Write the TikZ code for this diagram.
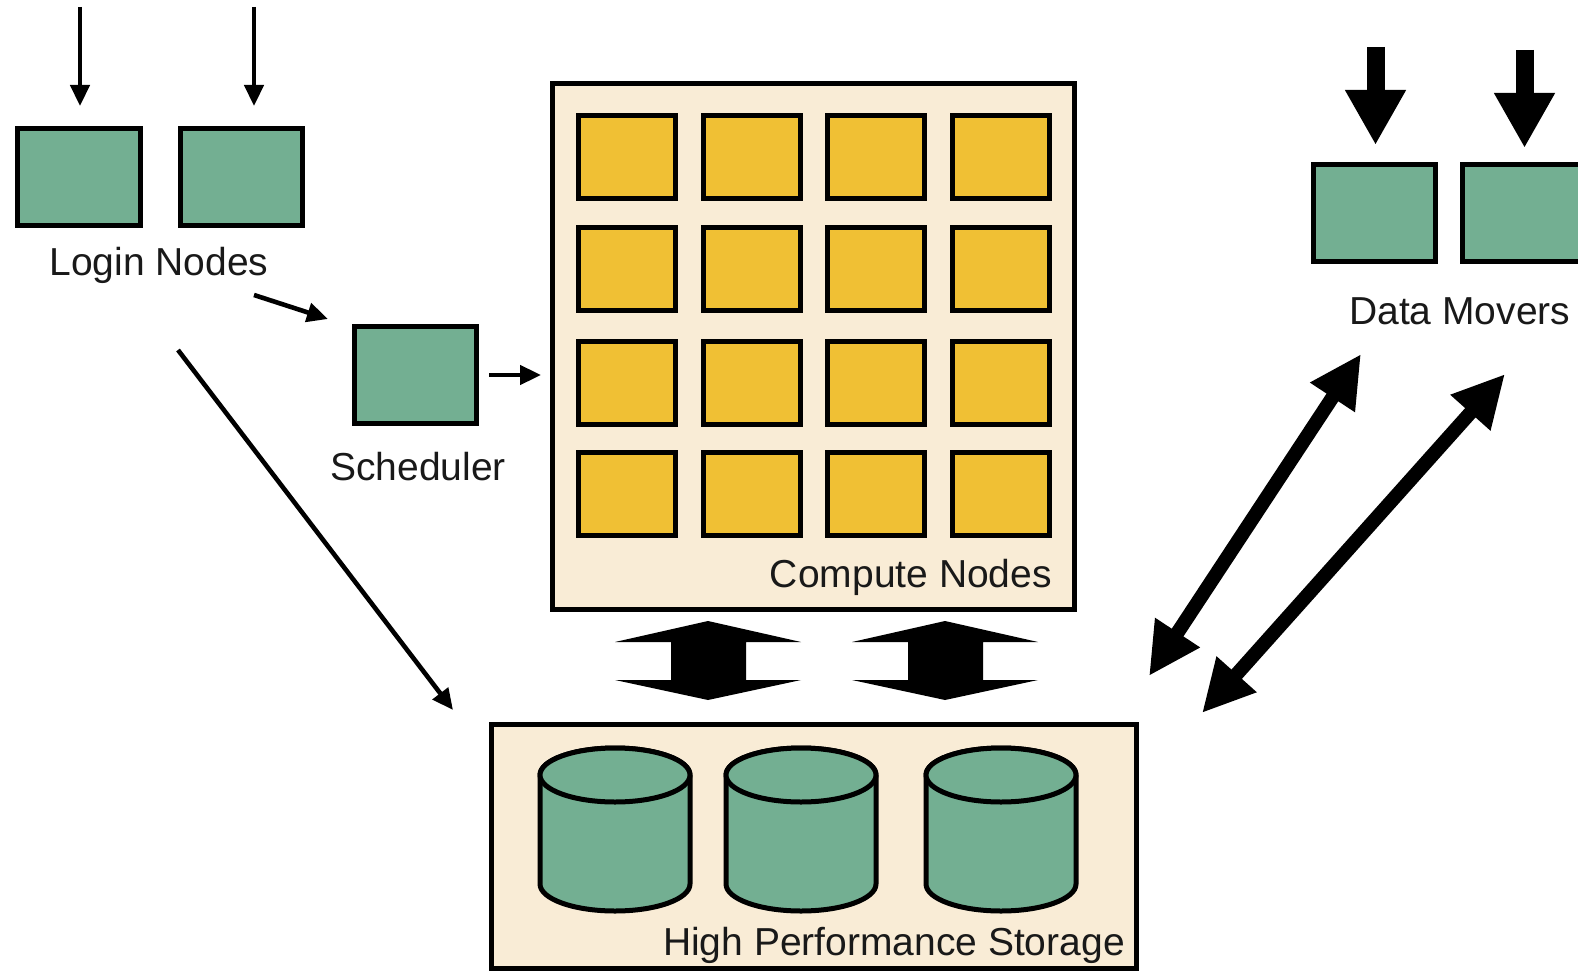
\documentclass[tikz,border=0pt]{standalone}
\usepackage{fontspec}
\setmainfont{Liberation Sans}
\usetikzlibrary{arrows.meta}
\definecolor{nodegreen}{RGB}{115,175,146}
\definecolor{nodeyellow}{RGB}{240,192,52}
\definecolor{panelbeige}{RGB}{249,236,214}
\begin{document}
\begin{tikzpicture}[x=1pt,y=-1pt,
  greenbox/.style={draw=black,line width=5pt,fill=nodegreen,inner sep=0pt,minimum width=122pt,minimum height=97pt},
  cpubox/.style={draw=black,line width=5pt,fill=nodeyellow,inner sep=0pt,minimum width=97pt,minimum height=83pt},
  panel/.style={draw=black,line width=5pt,fill=panelbeige,inner sep=0pt},
  lbl/.style={font=\fontsize{39}{47}\selectfont,text=black!90,inner sep=0pt},
  thinarrow/.style={line width=4.6pt,-{Triangle[length=21pt,width=19pt]}},
  fatarrow/.style={line width=18pt,-{Triangle[length=55pt,width=57pt]}},
  dblarrow/.style={line width=14pt,{Triangle[length=52pt,width=50pt]}-{Triangle[length=52pt,width=50pt]}},
  cyl/.style={draw=black,line width=5pt,fill=nodegreen,line join=round},
  blockarrow/.style={fill=black}]
\useasboundingbox (0,0) rectangle (1578,973);
\fill[white] (0,0) rectangle (1578,973);

% Login nodes
\node[greenbox,minimum width=123pt] (login1) at (79,177.5) {};
\node[greenbox] (login2) at (241.5,177.5) {};
\node[lbl,anchor=base] (loginlbl) at (159,276) {Login Nodes};
\coordinate (in1) at (80,7);
\coordinate (in2) at (254,7);
\draw[thinarrow] (in1) -- (80,106);
\draw[thinarrow] (in2) -- (254,106);

% Scheduler
\node[greenbox] (sched) at (415.5,375) {};
\node[lbl,anchor=base] (schedlbl) at (418,480) {Scheduler};

% Compute nodes
\node[panel,minimum width=522pt,minimum height=526pt] (compute) at (813.5,346.5) {};
\foreach \cx [count=\i] in {627,751.5,876,1001}{
  \foreach \cy [count=\j] in {157,269.5,382.5,494}{
    \node[cpubox] (cpu\i\j) at (\cx,\cy) {};
  }
}
\node[lbl,anchor=base east] (computelbl) at (1052,587) {Compute Nodes};

% connectors login -> scheduler -> compute
\coordinate (ls1) at (254,295);
\coordinate (ls2) at (328,319);
\draw[thinarrow] (ls1) -- (ls2);
\coordinate (sc1) at (489,375);
\coordinate (sc2) at (541,375);
\draw[thinarrow] (sc1) -- (sc2);

% login -> storage
\coordinate (lst1) at (178,350);
\coordinate (lst2) at (453,710);
\draw[thinarrow] (lst1) -- (lst2);

% Storage
\node[panel,minimum width=645pt,minimum height=244pt] (storage) at (814,846.5) {};
\foreach \cx/\nm in {615/disk1,801/disk2,1001/disk3}{
  \draw[cyl] (\cx-75,775) -- (\cx-75,884) arc (180:0:75 and 27) -- (\cx+75,775) arc (0:-180:75 and 27) -- cycle;
  \draw[cyl] (\cx,775) ellipse (75 and 27);
  \coordinate (\nm) at (\cx,830);
}
\node[lbl,anchor=base east] (storagelbl) at (1125,955) {High Performance Storage};

% block double arrows compute <-> storage
\foreach \cx in {708,945}{
  \fill[blockarrow] (\cx,621) -- (\cx+93,642) -- (\cx+38,642) -- (\cx+38,680) -- (\cx+93,680)
    -- (\cx,700) -- (\cx-93,680) -- (\cx-37,680) -- (\cx-37,642) -- (\cx-93,642) -- cycle;
}

% Data movers
\node[greenbox] (dm1) at (1374.5,213) {};
\node[greenbox] (dm2) at (1523,213) {};
\node[lbl,anchor=base west] (dmlbl) at (1349,324) {Data Movers};
\coordinate (din1) at (1375.5,47);
\coordinate (din2) at (1524.5,50);
\draw[fatarrow] (din1) -- (1375.5,145);
\draw[fatarrow] (din2) -- (1524.5,148);

% data movers <-> storage
\coordinate (da1) at (1361,354);
\coordinate (da2) at (1149,676);
\coordinate (db1) at (1505,374);
\coordinate (db2) at (1202,713);
\draw[dblarrow] (da2) -- (da1);
\draw[dblarrow] (db2) -- (db1);
\end{tikzpicture}
\end{document}
